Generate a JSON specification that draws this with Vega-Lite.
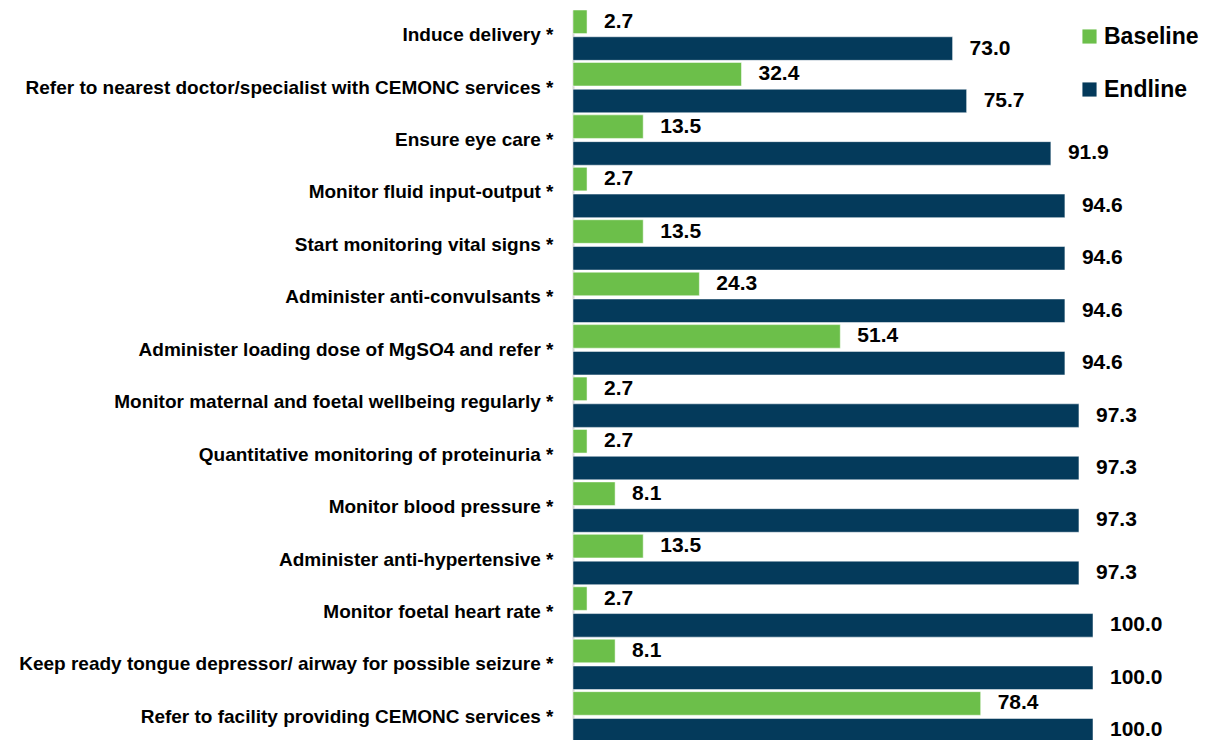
{
  "$schema": "https://vega.github.io/schema/vega-lite/v6.json",
  "autosize": {"type": "none"},
  "padding": {"left": 573, "top": 10, "right": 117, "bottom": 0},
  "width": 520,
  "height": 732,
  "background": "white",
  "config": {
    "view": {"stroke": null},
    "font": "Liberation Sans"
  },
  "data": {
    "values": [
      {"item": "Induce delivery *", "survey": "Baseline", "value": 2.7},
      {"item": "Induce delivery *", "survey": "Endline", "value": 73.0},
      {"item": "Refer to nearest doctor/specialist with CEMONC services *", "survey": "Baseline", "value": 32.4},
      {"item": "Refer to nearest doctor/specialist with CEMONC services *", "survey": "Endline", "value": 75.7},
      {"item": "Ensure eye care *", "survey": "Baseline", "value": 13.5},
      {"item": "Ensure eye care *", "survey": "Endline", "value": 91.9},
      {"item": "Monitor fluid input-output *", "survey": "Baseline", "value": 2.7},
      {"item": "Monitor fluid input-output *", "survey": "Endline", "value": 94.6},
      {"item": "Start monitoring vital signs *", "survey": "Baseline", "value": 13.5},
      {"item": "Start monitoring vital signs *", "survey": "Endline", "value": 94.6},
      {"item": "Administer anti-convulsants *", "survey": "Baseline", "value": 24.3},
      {"item": "Administer anti-convulsants *", "survey": "Endline", "value": 94.6},
      {"item": "Administer loading dose of MgSO4 and refer *", "survey": "Baseline", "value": 51.4},
      {"item": "Administer loading dose of MgSO4 and refer *", "survey": "Endline", "value": 94.6},
      {"item": "Monitor maternal and foetal wellbeing regularly *", "survey": "Baseline", "value": 2.7},
      {"item": "Monitor maternal and foetal wellbeing regularly *", "survey": "Endline", "value": 97.3},
      {"item": "Quantitative monitoring of proteinuria *", "survey": "Baseline", "value": 2.7},
      {"item": "Quantitative monitoring of proteinuria *", "survey": "Endline", "value": 97.3},
      {"item": "Monitor blood pressure *", "survey": "Baseline", "value": 8.1},
      {"item": "Monitor blood pressure *", "survey": "Endline", "value": 97.3},
      {"item": "Administer anti-hypertensive *", "survey": "Baseline", "value": 13.5},
      {"item": "Administer anti-hypertensive *", "survey": "Endline", "value": 97.3},
      {"item": "Monitor foetal heart rate *", "survey": "Baseline", "value": 2.7},
      {"item": "Monitor foetal heart rate *", "survey": "Endline", "value": 100.0},
      {"item": "Keep ready tongue depressor/ airway for possible seizure *", "survey": "Baseline", "value": 8.1},
      {"item": "Keep ready tongue depressor/ airway for possible seizure *", "survey": "Endline", "value": 100.0},
      {"item": "Refer to facility providing CEMONC services *", "survey": "Baseline", "value": 78.4},
      {"item": "Refer to facility providing CEMONC services *", "survey": "Endline", "value": 100.0}
    ]
  },
  "encoding": {
    "y": {
      "field": "item", "type": "nominal", "sort": null,
      "scale": {"paddingInner": 0.04, "paddingOuter": 0.0},
      "axis": {
        "title": null, "ticks": false, "labelFontSize": 19, "labelFontWeight": "bold",
        "labelColor": "#000000", "labelPadding": 20, "labelLimit": 600,
        "domainColor": "#D9D9D9", "domainWidth": 2
      }
    },
    "yOffset": {
      "field": "survey", "type": "nominal",
      "scale": {"domain": ["Baseline", "Endline"], "paddingInner": 0.12}
    },
    "x": {
      "field": "value", "type": "quantitative",
      "scale": {"domain": [0, 100]},
      "axis": null
    }
  },
  "layer": [
    {
      "mark": {"type": "bar", "stroke": "white", "strokeWidth": 0.5},
      "encoding": {
        "color": {
          "field": "survey", "type": "nominal",
          "scale": {"domain": ["Baseline", "Endline"], "range": ["#6CBF4A", "#043A5B"]},
          "legend": {
            "title": null, "orient": "none", "legendX": 505, "legendY": 15,
            "symbolType": "square", "symbolSize": 200, "symbolStrokeWidth": 0,
            "labelFontSize": 23, "labelFontWeight": "bold", "labelColor": "#000000",
            "rowPadding": 29, "labelOffset": 3
          }
        }
      }
    },
    {
      "mark": {"type": "text", "align": "left", "baseline": "middle", "dx": 17, "fontSize": 21, "fontWeight": "bold", "color": "#000000"},
      "encoding": {
        "text": {"field": "value", "type": "quantitative", "format": ".1f"}
      }
    }
  ]
}
